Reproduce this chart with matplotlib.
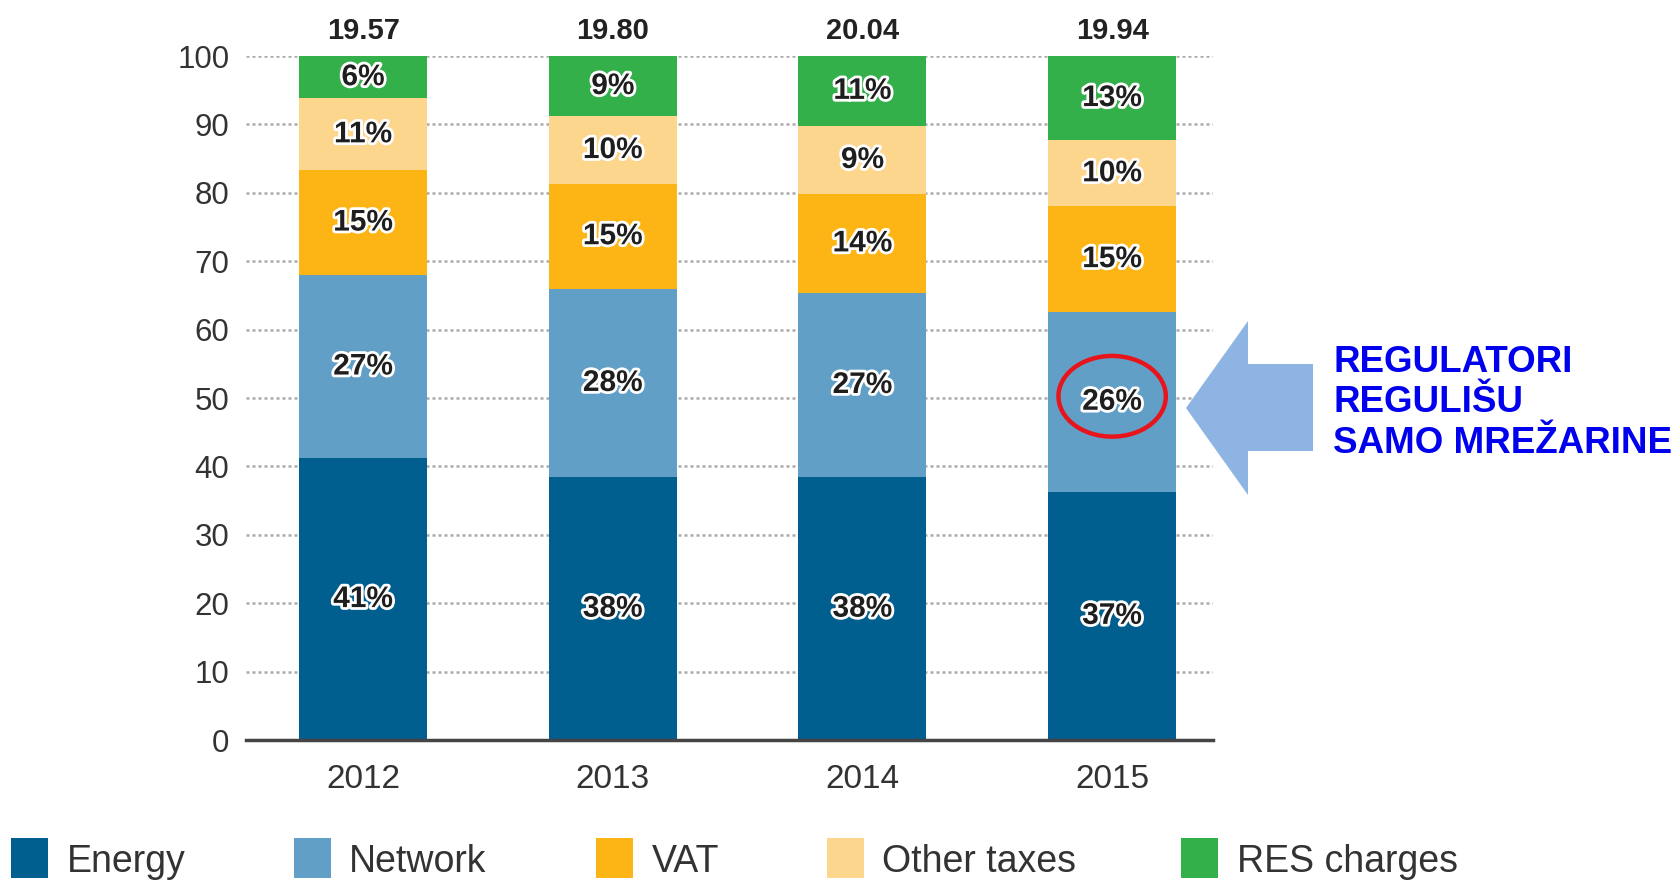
import matplotlib
matplotlib.use("Agg")
import matplotlib.pyplot as plt
import matplotlib.patheffects as pe
from matplotlib.patches import Polygon, Rectangle, Ellipse

# ---- data ----
years = ["2012", "2013", "2014", "2015"]
totals = ["19.57", "19.80", "20.04", "19.94"]
series_names = ["Energy", "Network", "VAT", "Other taxes", "RES charges"]
energy = [41.2, 38.4, 38.4, 36.3]
network = [26.8, 27.6, 27.0, 26.3]
vat = [15.3, 15.3, 14.4, 15.4]
other_taxes = [10.5, 9.9, 10.0, 9.7]
res_charges = [6.2, 8.8, 10.2, 12.3]
energy_lbl = ["41%", "38%", "38%", "37%"]
network_lbl = ["27%", "28%", "27%", "26%"]
vat_lbl = ["15%", "15%", "14%", "15%"]
other_lbl = ["11%", "10%", "9%", "10%"]
res_lbl = ["6%", "9%", "11%", "13%"]
yticks = [0, 10, 20, 30, 40, 50, 60, 70, 80, 90, 100]
note = "REGULATORI\nREGULIŠU\nSAMO MREŽARINE"

series = [energy, network, vat, other_taxes, res_charges]
labels = [energy_lbl, network_lbl, vat_lbl, other_lbl, res_lbl]
colors = ["#005F8E", "#629FC6", "#FDB515", "#FDD68E", "#34B04A"]

W, H = 1679, 885
plt.rcParams["font.family"] = ["Liberation Sans", "DejaVu Sans"]
fig = plt.figure(figsize=(W / 100, H / 100), dpi=100)
fig.patch.set_facecolor("white")


def fx(px):
    return px / W


def fy(py):
    return 1 - py / H


ax = fig.add_axes([fx(246), fy(740), fx(1213) - fx(246), fy(56) - fy(740)])
x = list(range(len(years)))
bw = 0.513
bottom = [0.0] * len(years)
for vals, lbls, col in zip(series, labels, colors):
    ax.bar(x, vals, bw, bottom=bottom, color=col, zorder=2, linewidth=0)
    for i in x:
        ax.text(i, bottom[i] + vals[i] / 2, lbls[i], ha="center", va="center",
                fontsize=21.5, fontweight="bold", color="#1e1e1e", zorder=4,
                path_effects=[pe.withStroke(linewidth=4, foreground="white")])
    bottom = [b + v for b, v in zip(bottom, vals)]

for i in x:
    ax.text(i, 103.6, totals[i], ha="center", va="center", fontsize=21,
            fontweight="bold", color="#222222", clip_on=False)

ax.set_xlim(-0.469, 3.404)
ax.set_ylim(0, 100)
ax.set_yticks(yticks)
ax.set_yticklabels([str(t) for t in yticks], fontsize=22.5, color="#333333")
ax.set_xticks(x)
ax.set_xticklabels(years, fontsize=24, color="#333333")
ax.tick_params(axis="both", length=0)
ax.tick_params(axis="y", pad=12)
ax.tick_params(axis="x", pad=17)
for s in ["top", "right", "left"]:
    ax.spines[s].set_visible(False)
ax.spines["bottom"].set_color("#444444")
ax.spines["bottom"].set_linewidth(2.5)
ax.spines["bottom"].set_zorder(3)
ax.yaxis.grid(True, linestyle=(0, (1.2, 1.2)), color="#aaaaaa", linewidth=1.8, zorder=1)
ax.set_axisbelow(True)
ax.set_facecolor("white")

# red ellipse around 2015 network label
ell = Ellipse((3, energy[3] + network[3] / 2 + 0.8), 0.43, 11.8, fill=False,
              edgecolor="#E8141B", linewidth=3.2, zorder=5, clip_on=False)
ax.add_patch(ell)

# arrow (figure pixel coords)
arrow_pts = [(1186, 408), (1248, 321), (1248, 364), (1313, 364),
             (1313, 451), (1248, 451), (1248, 495)]
fig.add_artist(Polygon([(fx(a), fy(b)) for a, b in arrow_pts], closed=True,
                       transform=fig.transFigure, facecolor="#8EB4E3",
                       edgecolor="none"))
fig.text(fx(1333), fy(403), note, ha="left", va="center", fontsize=26.5,
         fontweight="bold", color="#0000EE", linespacing=1.22)

# legend
sq_x = [11, 294, 596, 827, 1181]
tx_x = [67, 349, 652, 882, 1237]
for name, col, sx, tx in zip(series_names, colors, sq_x, tx_x):
    fig.add_artist(Rectangle((fx(sx), fy(878)), fx(37), 40 / H,
                             transform=fig.transFigure, facecolor=col,
                             edgecolor="none"))
    fig.text(fx(tx), fy(872), name, ha="left", va="baseline", fontsize=27,
             color="#333333")

fig.savefig("out.png", dpi=100, facecolor="white")
